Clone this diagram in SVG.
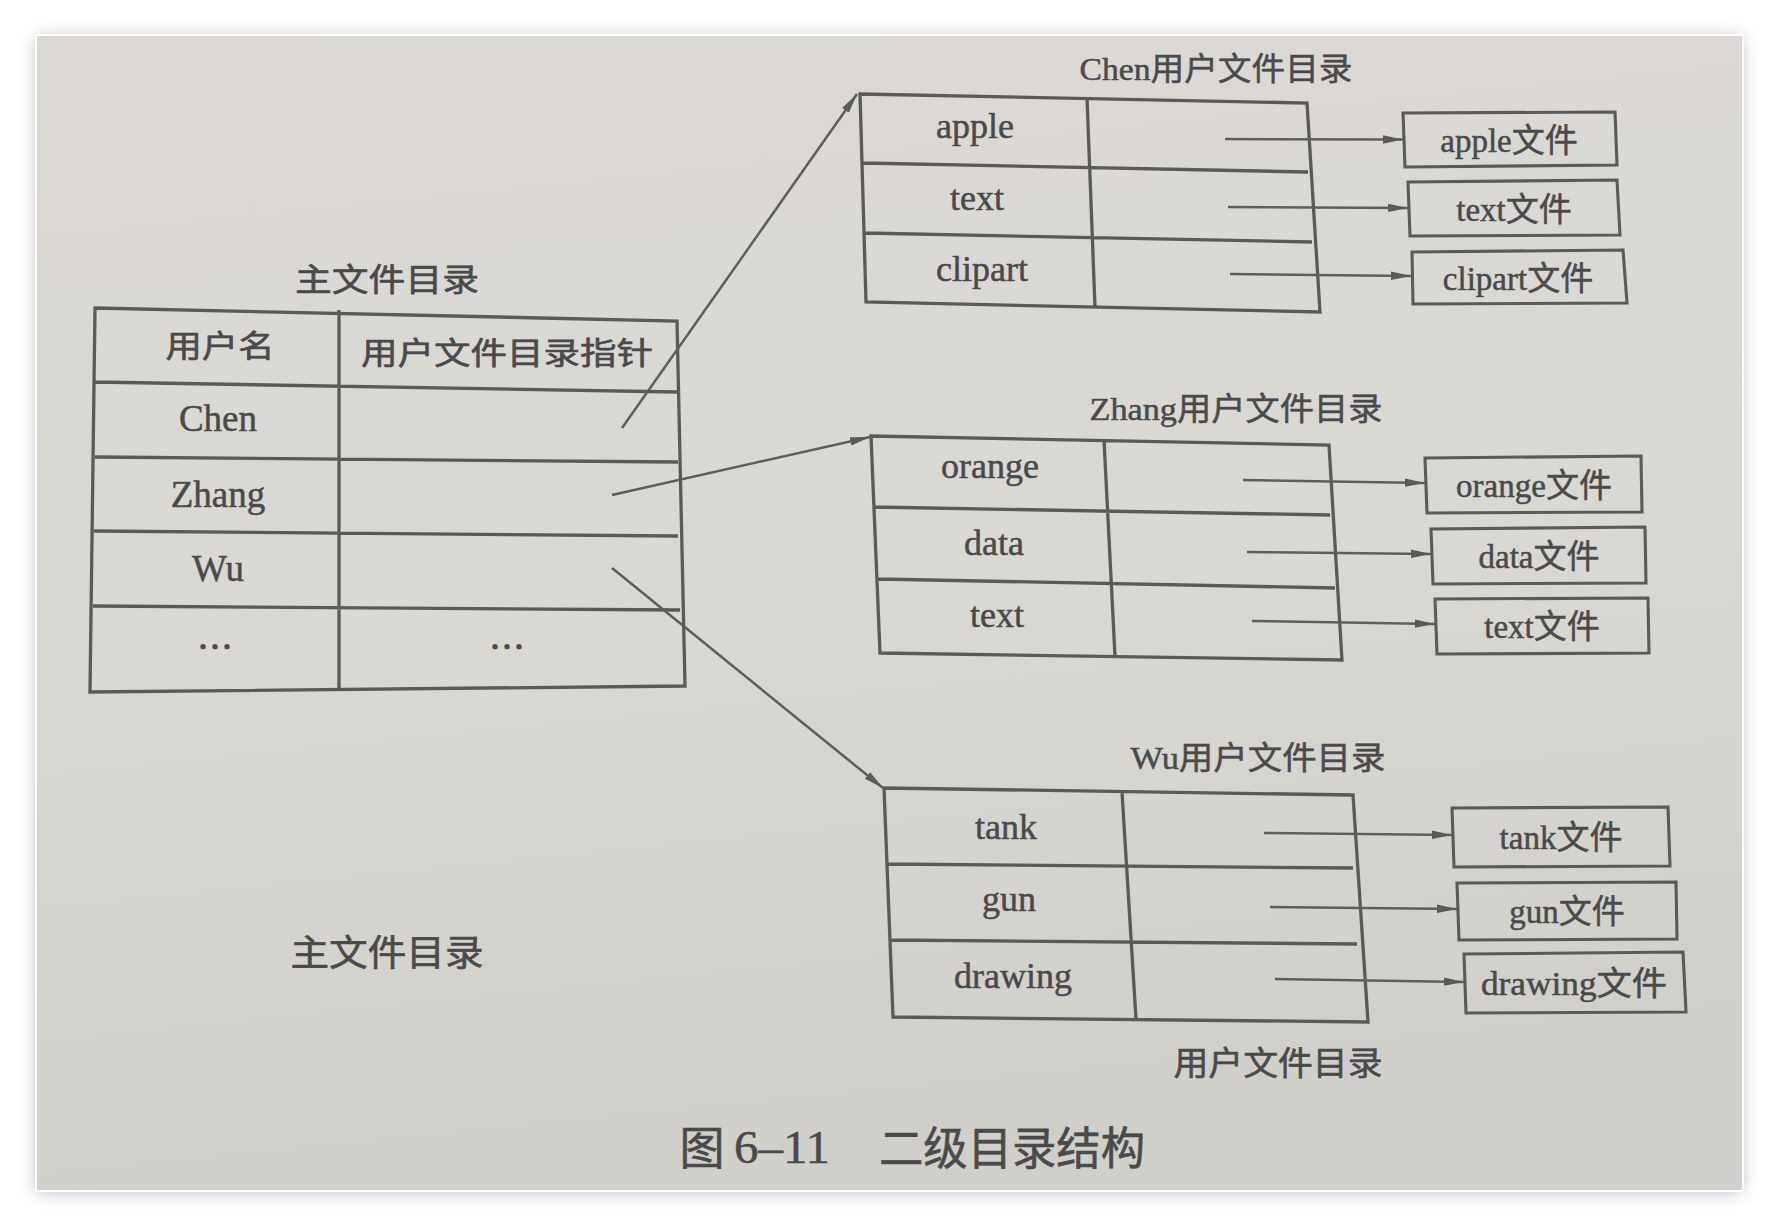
<svg xmlns="http://www.w3.org/2000/svg" width="1782" height="1228" viewBox="0 0 1782 1228">
  <defs>
    <linearGradient id="paper" x1="0" y1="0" x2="0.15" y2="1">
      <stop offset="0" stop-color="#dcd9d5"/>
      <stop offset="0.55" stop-color="#d9d8d3"/>
      <stop offset="1" stop-color="#d0cfca"/>
    </linearGradient>
    <filter id="shadow" x="-5%" y="-5%" width="110%" height="110%">
      <feGaussianBlur stdDeviation="9"/>
    </filter>
    <marker id="arrow" viewBox="0 0 20 10" refX="20" refY="5" markerUnits="userSpaceOnUse" markerWidth="20" markerHeight="10" orient="auto">
      <path d="M0,0.8 L20,5 L0,9.2 z" fill="#5a5a5a"/>
    </marker>
    <style>
      .grid { fill: none; stroke: #5a5a5a; stroke-width: 3.3; stroke-linejoin: miter; }
      .box { fill: none; stroke: #5a5a5a; stroke-width: 3.1; }
      .link { fill: none; stroke: #5e5e5e; stroke-width: 2.5; marker-end: url(#arrow); }
      .lat { font-family: "Liberation Serif", "Noto Sans CJK SC", serif; fill: #4a4a4a; stroke: #4a4a4a; stroke-width: 0.5; text-anchor: middle; }
      .cjk { font-family: "Noto Sans CJK SC", sans-serif; fill: #4a4a4a; stroke: #4a4a4a; stroke-width: 0.6; text-anchor: middle; }
      .cell { font-size: 36px; }
      .file { font-size: 33px; }
      .title { font-size: 32px; }
    </style>
  </defs>

  <!-- page background with soft shadow -->
  <rect x="0" y="0" width="1782" height="1228" fill="#ffffff"/>
  <rect x="37" y="38" width="1705" height="1154" fill="#000000" opacity="0.28" filter="url(#shadow)"/>
  <rect x="35" y="34" width="1709" height="1158" fill="#ffffff"/>
  <rect x="37" y="36" width="1705" height="1154" fill="url(#paper)"/>

  <!-- main file directory -->
  <g id="main-dir">
    <text class="cjk" x="387" y="291" font-size="32" textLength="184" lengthAdjust="spacingAndGlyphs">主文件目录</text>
    <path class="grid" d="M95,308 L677,321 L685,686 L90,692 Z M95,382 L677,392 M95,457 L678,462 M94,531 L678,536 M93,606 L680,610 M339,310 L339,690"/>
    <text class="cjk" x="220" y="357" font-size="31" textLength="109" lengthAdjust="spacingAndGlyphs">用户名</text>
    <text class="cjk" x="507" y="364" font-size="31" textLength="292" lengthAdjust="spacingAndGlyphs">用户文件目录指针</text>
    <text class="lat" x="218" y="431" font-size="37">Chen</text>
    <text class="lat" x="218" y="507" font-size="37">Zhang</text>
    <text class="lat" x="218" y="581" font-size="37">Wu</text>
    <text class="cjk" x="215" y="661" font-size="36">…</text>
    <text class="cjk" x="507" y="661" font-size="36">…</text>
  </g>

  <!-- Chen user directory -->
  <g id="chen-dir">
    <text class="lat title" x="1216" y="80" textLength="273" lengthAdjust="spacingAndGlyphs">Chen用户文件目录</text>
    <path class="grid" d="M860,94 L1307,103 L1320,312 L866,302 Z M863,163 L1308,172 M864,233 L1312,242 M1087,98 L1095,307"/>
    <text class="lat cell" x="975" y="138">apple</text>
    <text class="lat cell" x="977" y="210">text</text>
    <text class="lat cell" x="982" y="281">clipart</text>
  </g>
  <g id="chen-apple">
    <path class="box" d="M1403,113 L1615,112 L1617,165 L1405,167 Z"/>
    <text class="lat file" x="1509" y="152">apple文件</text>
  </g>
  <g id="chen-text">
    <path class="box" d="M1408,182 L1617,180 L1620,235 L1410,236 Z"/>
    <text class="lat file" x="1514" y="221">text文件</text>
  </g>
  <g id="chen-clipart">
    <path class="box" d="M1412,252 L1623,250 L1627,303 L1413,304 Z"/>
    <text class="lat file" x="1518" y="290">clipart文件</text>
  </g>

  <!-- Zhang user directory -->
  <g id="zhang-dir">
    <text class="lat title" x="1236" y="420" textLength="293" lengthAdjust="spacingAndGlyphs">Zhang用户文件目录</text>
    <path class="grid" d="M871,436 L1329,445 L1342,660 L880,653 Z M873,507 L1330,515 M878,579 L1335,588 M1104,440 L1115,656"/>
    <text class="lat cell" x="990" y="478">orange</text>
    <text class="lat cell" x="994" y="555">data</text>
    <text class="lat cell" x="997" y="627">text</text>
  </g>
  <g id="zhang-orange">
    <path class="box" d="M1425,458 L1641,456 L1642,512 L1427,513 Z"/>
    <text class="lat file" x="1534" y="497">orange文件</text>
  </g>
  <g id="zhang-data">
    <path class="box" d="M1431,529 L1645,527 L1646,583 L1433,584 Z"/>
    <text class="lat file" x="1539" y="568">data文件</text>
  </g>
  <g id="zhang-text">
    <path class="box" d="M1435,599 L1648,598 L1649,653 L1437,654 Z"/>
    <text class="lat file" x="1542" y="638">text文件</text>
  </g>

  <!-- Wu user directory -->
  <g id="wu-dir">
    <text class="lat title" x="1258" y="769" textLength="255" lengthAdjust="spacingAndGlyphs">Wu用户文件目录</text>
    <path class="grid" d="M884,788 L1353,795 L1368,1022 L893,1017 Z M886,864 L1353,868 M889,940 L1357,944 M1122,792 L1136,1019"/>
    <text class="lat cell" x="1006" y="839">tank</text>
    <text class="lat cell" x="1009" y="911">gun</text>
    <text class="lat cell" x="1013" y="988">drawing</text>
  </g>
  <g id="wu-tank">
    <path class="box" d="M1452,808 L1668,807 L1670,866 L1454,867 Z"/>
    <text class="lat file" x="1561" y="849">tank文件</text>
  </g>
  <g id="wu-gun">
    <path class="box" d="M1457,883 L1676,882 L1677,939 L1459,940 Z"/>
    <text class="lat file" x="1567" y="923">gun文件</text>
  </g>
  <g id="wu-drawing">
    <path class="box" d="M1464,954 L1683,952 L1686,1012 L1466,1013 Z"/>
    <text class="lat file" x="1574" y="995" textLength="186" lengthAdjust="spacingAndGlyphs">drawing文件</text>
  </g>

  <!-- connectors -->
  <g id="connectors">
    <path class="link" d="M622,428 L857,94"/>
    <path class="link" d="M612,495 L870,437"/>
    <path class="link" d="M612,568 L883,788"/>
    <path class="link" d="M1225,139 L1403,139.5"/>
    <path class="link" d="M1228,207 L1408,208"/>
    <path class="link" d="M1230,274 L1411,276"/>
    <path class="link" d="M1243,480 L1425,483"/>
    <path class="link" d="M1247,552 L1431,554"/>
    <path class="link" d="M1252,621 L1435,624"/>
    <path class="link" d="M1264,833 L1452,835"/>
    <path class="link" d="M1270,907 L1457,909"/>
    <path class="link" d="M1275,979 L1464,982"/>
  </g>

  <!-- captions -->
  <text class="cjk" x="387" y="966" font-size="36" textLength="193" lengthAdjust="spacingAndGlyphs">主文件目录</text>
  <text class="cjk" x="1278" y="1075" font-size="33" textLength="209" lengthAdjust="spacingAndGlyphs">用户文件目录</text>
  <text class="cjk" x="702" y="1165" font-size="45">图</text>
  <text class="lat" x="782" y="1163" font-size="46" textLength="96" lengthAdjust="spacingAndGlyphs">6–11</text>
  <text class="cjk" x="1012" y="1165" font-size="45" textLength="266" lengthAdjust="spacingAndGlyphs">二级目录结构</text>
</svg>
